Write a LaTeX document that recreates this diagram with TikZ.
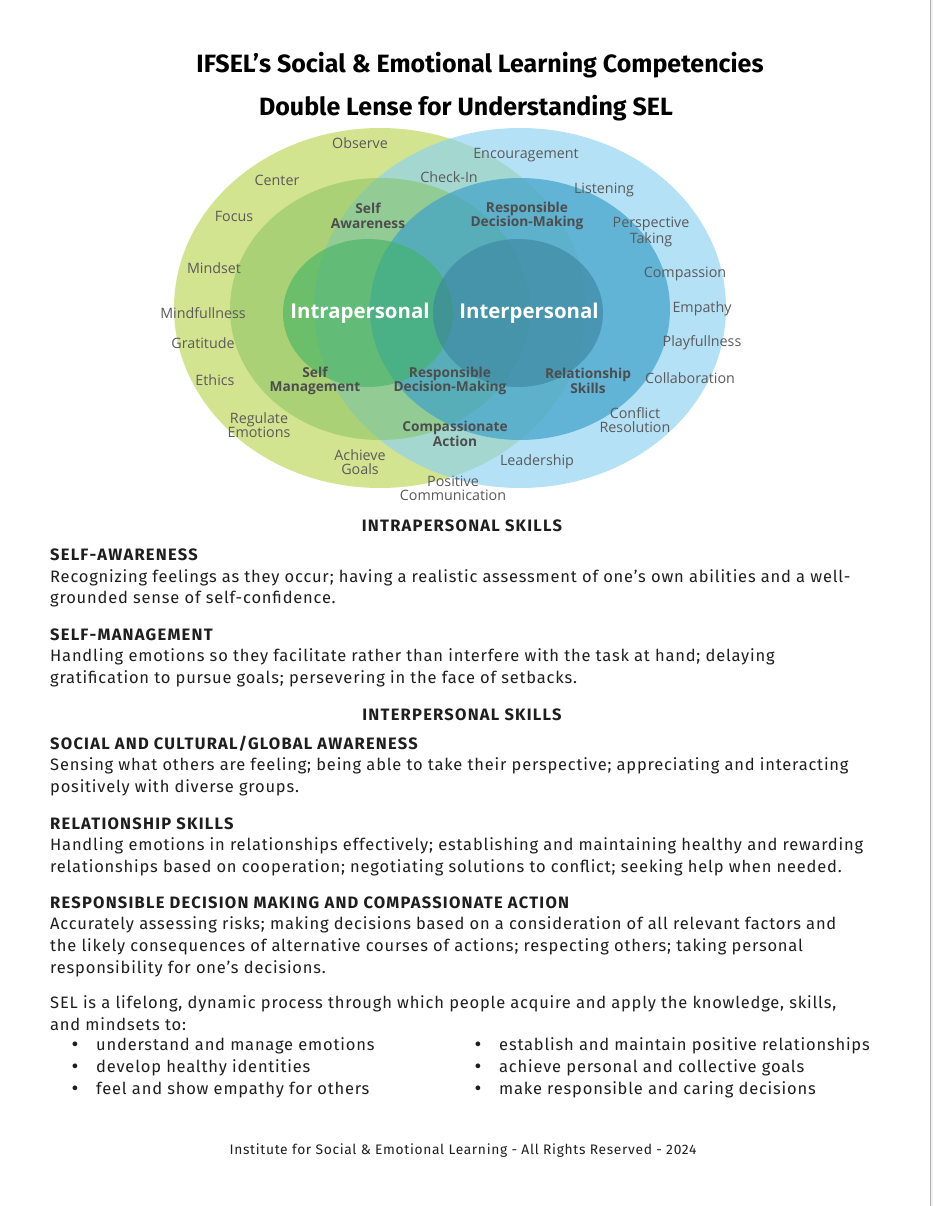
\documentclass[tikz,border=0pt]{standalone}
\usepackage{fontspec}
\setmainfont{Fira Sans}[LetterSpace=4.9]
\newfontfamily\headf{Fira Sans}[LetterSpace=7.5]
\newfontfamily\titlef{Fira Sans}
\newfontfamily\labf{Open Sans}
\definecolor{og}{HTML}{D3E491}
\definecolor{ob}{HTML}{8CD1F1}
\definecolor{mg}{HTML}{83C05D}
\definecolor{mb}{HTML}{3FA2C8}
\definecolor{ig}{HTML}{42B263}
\definecolor{ib}{HTML}{3A839F}
\definecolor{txt}{HTML}{1E1E1E}
\definecolor{labc}{HTML}{5A5A5A}
\definecolor{blabc}{HTML}{4D4D4D}
\tikzset{
  body/.style={anchor=base west, inner sep=0pt, font=\fontsize{16.5}{19}\selectfont, text=txt},
  head/.style={body, font=\headf\fontsize{16.5}{19}\selectfont\bfseries},
  ctr/.style={head, anchor=base},
  lab/.style={font=\labf\fontsize{14.3}{14}\selectfont, text=labc, align=center, inner sep=0pt},
  blab/.style={font=\labf\bfseries\fontsize{13.7}{14.5}\selectfont, text=blabc, align=center, inner sep=0pt},
  wlab/.style={font=\labf\bfseries\fontsize{20.4}{22}\selectfont, text=white, inner sep=0pt},
  ttl/.style={anchor=base, inner sep=0pt, font=\titlef\bfseries\fontsize{25}{28}\selectfont, text=black},
  bul/.style={anchor=base, inner sep=0pt, font=\fontsize{21}{21}\selectfont, text=txt},
}
\begin{document}
\begin{tikzpicture}[x=1pt,y=-1pt]
\useasboundingbox (0,0) rectangle (933,1206);
\fill[white] (0,0) rectangle (933,1206);
\fill[black!5] (931,0) rectangle (933,1206);
\draw[black!30, line width=1pt] (930.5,0) -- (930.5,1206);

% titles
\node[ttl] (t1) at (480,73) {IFSEL’s Social \& Emotional Learning Competencies};
\node[ttl] (t2) at (466,116) {Double Lense for Understanding SEL};

% ellipses
\fill[og] (380,308) ellipse [x radius=206pt, y radius=180pt];
\fill[ob, fill opacity=.65] (520,308) ellipse [x radius=206pt, y radius=180pt];
\fill[mg, fill opacity=.5] (380,309) ellipse [x radius=150pt, y radius=131pt];
\fill[mb, fill opacity=.7] (520,309) ellipse [x radius=150pt, y radius=131pt];
\fill[ig, fill opacity=.6] (368,313) ellipse [x radius=85pt, y radius=74pt];
\fill[ib, fill opacity=.6] (518,313) ellipse [x radius=85pt, y radius=74pt];

% outer labels
\node[lab] (observe) at (360,143) {Observe};
\node[lab] (center) at (277,180) {Center};
\node[lab] (focus) at (234,216) {Focus};
\node[lab] (mindset) at (214,268) {Mindset};
\node[lab] (mindful) at (203,313) {Mindfullness};
\node[lab] (grat) at (203,343) {Gratitude};
\node[lab] (ethics) at (215,380) {Ethics};
\node[lab] (regulate) at (259,425) {Regulate\\Emotions};
\node[lab] (achieve) at (360,462) {Achieve\\Goals};
\node[lab] (positive) at (453,488) {Positive\\Communication};
\node[lab] (leader) at (537,462) {Leadership};
\node[lab] (conflict) at (635,420) {Conflict\\Resolution};
\node[lab] (collab) at (690,378) {Collaboration};
\node[lab] (play) at (702,343) {Playfullness};
\node[lab] (empathy) at (702,309) {Empathy};
\node[lab] (compass) at (685,274) {Compassion};
\node[lab] (persp) at (651,232) {Perspective\\Taking};
\node[lab] (listen) at (604,190) {Listening};
\node[lab] (encour) at (526,155) {Encouragement};
\node[lab] (check) at (449,177) {Check-In};

% bold labels
\node[blab] (saw) at (368,216) {Self\\Awareness};
\node[blab] (rdm1) at (527,216) {Responsible\\Decision-Making};
\node[blab] (smg) at (315,381) {Self\\Management};
\node[blab] (rdm2) at (450,381) {Responsible\\Decision-Making};
\node[blab] (rel) at (588,381) {Relationship\\Skills};
\node[blab] (cact) at (455,434) {Compassionate\\Action};
\node[wlab] (intra) at (360,313) {Intrapersonal};
\node[wlab] (inter) at (529,313) {Interpersonal};

% body text
\node[ctr] (h1) at (462,531) {INTRAPERSONAL SKILLS};
\node[head] (sa) at (50,560) {SELF-AWARENESS};
\node[body] (sa1) at (50,582) {Recognizing feelings as they occur; having a realistic assessment of one’s own abilities and a well-};
\node[body] (sa2) at (50,603) {grounded sense of self-confidence.};
\node[head] (sm) at (50,640) {SELF-MANAGEMENT};
\node[body] (sm1) at (50,661) {Handling emotions so they facilitate rather than interfere with the task at hand; delaying};
\node[body] (sm2) at (50,683) {gratification to pursue goals; persevering in the face of setbacks.};
\node[ctr] (h2) at (462,720) {INTERPERSONAL SKILLS};
\node[head] (sc) at (50,749) {SOCIAL AND CULTURAL/GLOBAL AWARENESS};
\node[body] (sc1) at (50,770) {Sensing what others are feeling; being able to take their perspective; appreciating and interacting};
\node[body] (sc2) at (50,792) {positively with diverse groups.};
\node[head] (rs) at (50,829) {RELATIONSHIP SKILLS};
\node[body] (rs1) at (50,850) {Handling emotions in relationships effectively; establishing and maintaining healthy and rewarding};
\node[body] (rs2) at (50,872) {relationships based on cooperation; negotiating solutions to conflict; seeking help when needed.};
\node[head] (rd) at (50,908) {RESPONSIBLE DECISION MAKING AND COMPASSIONATE ACTION};
\node[body] (rd1) at (50,929) {Accurately assessing risks; making decisions based on a consideration of all relevant factors and};
\node[body] (rd2) at (50,951) {the likely consequences of alternative courses of actions; respecting others; taking personal};
\node[body] (rd3) at (50,973) {responsibility for one’s decisions.};
\node[body] (sel1) at (50,1008) {SEL is a lifelong, dynamic process through which people acquire and apply the knowledge, skills,};
\node[body] (sel2) at (50,1030) {and mindsets to:};
\node[bul] (b1) at (75,1051) {•};
\node[bul] (b2) at (75,1073) {•};
\node[bul] (b3) at (75,1095) {•};
\node[body] (l1) at (96,1050) {understand and manage emotions};
\node[body] (l2) at (96,1072) {develop healthy identities};
\node[body] (l3) at (96,1094) {feel and show empathy for others};
\node[bul] (b4) at (478,1051) {•};
\node[bul] (b5) at (478,1073) {•};
\node[bul] (b6) at (478,1095) {•};
\node[body] (r1) at (499,1050) {establish and maintain positive relationships};
\node[body] (r2) at (499,1072) {achieve personal and collective goals};
\node[body] (r3) at (499,1094) {make responsible and caring decisions};

\node[anchor=base, inner sep=0pt, font=\fontsize{13.8}{16}\selectfont, text=txt] (foot) at (463,1154) {Institute for Social \& Emotional Learning - All Rights Reserved - 2024};
\end{tikzpicture}
\end{document}
